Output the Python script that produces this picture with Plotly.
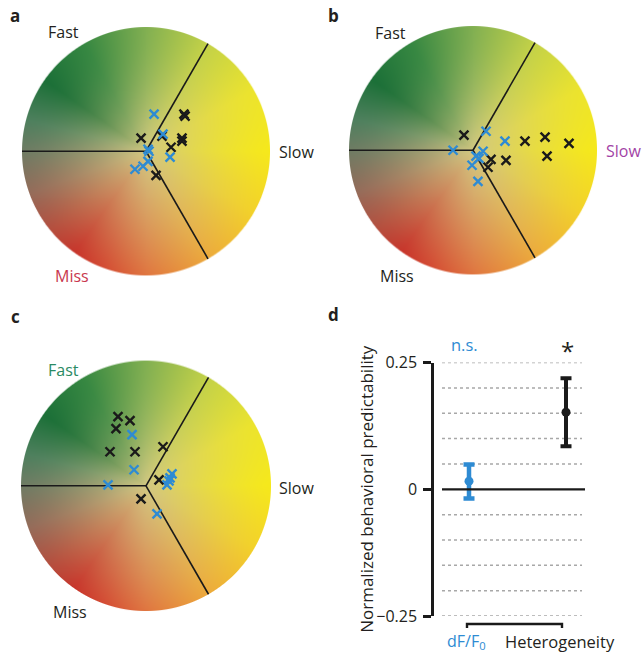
import numpy as np
import zlib, struct, base64
import plotly.graph_objects as go

W, H = 642, 659

# ---------------- data (normalized disc coordinates, radius = 1) ----------------
a_black_x = [0.315, 0.306, -0.040, 0.129, 0.290, 0.290, 0.202, 0.081]
a_black_y = [0.282, 0.298, 0.105, 0.121, 0.105, 0.081, 0.032, -0.194]
a_blue_x = [0.065, 0.137, 0.016, 0.024, 0.194, 0.016, -0.024, -0.089]
a_blue_y = [0.298, 0.137, 0.016, 0.000, -0.048, -0.081, -0.121, -0.145]

b_black_x = [-0.073, 0.419, 0.581, 0.774, 0.597, 0.266, 0.145, 0.121]
b_black_y = [0.121, 0.073, 0.105, 0.056, -0.048, -0.081, -0.073, -0.137]
b_blue_x = [0.105, 0.258, -0.161, 0.081, 0.048, 0.024, -0.008, 0.040]
b_blue_y = [0.153, 0.073, 0.000, -0.008, -0.065, -0.048, -0.121, -0.250]

c_black_x = [-0.224, -0.128, -0.240, -0.288, -0.088, 0.136, 0.104, -0.040]
c_black_y = [0.552, 0.520, 0.456, 0.272, 0.272, 0.312, 0.048, -0.104]
c_blue_x = [-0.112, -0.096, -0.304, 0.208, 0.184, 0.168, 0.192, 0.088]
c_blue_y = [0.408, 0.128, 0.008, 0.096, 0.040, 0.008, 0.064, -0.224]

d_categories = ["dF/F<sub>0</sub>", "Heterogeneity"]
d_means = [0.016, 0.152]
d_err_plus = [0.033, 0.067]
d_err_minus = [0.034, 0.067]
d_grid_levels = [-0.25, -0.2, -0.15, -0.1, -0.05, 0.05, 0.1, 0.15, 0.2, 0.25]
d_tickvals = [-0.25, 0, 0.25]
d_ticktext = ["\u22120.25", "0", "0.25"]

BLUE = "#2e8bd3"
BLACK = "#1a1a1a"
TXT = "#231f20"

# vertical placement helper (target pixel row -> layout pixel row)
SY, OY = 0.965, 13.0


def Y(py):
    return (py - OY) / SY


# ---------------- gradient disc image ----------------
def png_bytes(arr):
    h, w, _ = arr.shape
    raw = b"".join(b"\x00" + arr[i].tobytes() for i in range(h))

    def chunk(t, d):
        return struct.pack(">I", len(d)) + t + d + struct.pack(">I", zlib.crc32(t + d) & 0xFFFFFFFF)

    ihdr = struct.pack(">IIBBBBB", w, h, 8, 6, 0, 0, 0)
    return b"\x89PNG\r\n\x1a\n" + chunk(b"IHDR", ihdr) + chunk(b"IDAT", zlib.compress(raw, 9)) + chunk(b"IEND", b"")


def disc_uri(n=250):
    yy, xx = np.mgrid[0:n, 0:n]
    x = (xx + 0.5) / n * 2 - 1
    y = 1 - (yy + 0.5) / n * 2
    r = np.hypot(x, y)
    th = np.degrees(np.arctan2(y, x)) % 360
    angs = np.array([0, 30, 60, 90, 120, 145, 165, 180, 200, 220, 235, 250, 270, 300, 330, 360])
    cols = np.array([
        (246, 233, 28), (236, 228, 46), (196, 210, 72), (130, 176, 82), (55, 136, 66),
        (28, 112, 56), (78, 128, 94), (112, 124, 100), (150, 108, 90), (182, 78, 62),
        (200, 54, 44), (212, 76, 52), (224, 117, 64), (237, 170, 60), (243, 210, 42),
        (246, 233, 28)], float)
    ks = np.array([1.4, 1.4, 1.6, 1.8, 1.9, 1.9, 1.7, 1.5, 1.35, 1.2, 1.1, 1.0, 0.95, 1.0, 1.2, 1.4])
    edge = np.stack([np.interp(th, angs, cols[:, k]) for k in range(3)], -1)
    kk = np.interp(th, angs, ks)
    center = np.array([210, 200, 130], float)
    t = 1 - (1 - np.clip(r, 0, 1)) ** kk
    col = center * (1 - t)[..., None] + edge * t[..., None]
    alpha = np.clip((1 - r) * n / 2 + 0.5, 0, 1) * 255
    rgba = np.dstack([col, alpha]).clip(0, 255).astype(np.uint8)
    return "data:image/png;base64," + base64.b64encode(png_bytes(rgba)).decode()


DISC = disc_uri()

fig = go.Figure()

panels = [
    # suffix, cx, cy, r, pixel box x0, x1, y0, y1, data
    ("", 146, 153, 124, 0, 318, 13, 318, a_black_x, a_black_y, a_blue_x, a_blue_y),
    ("2", 473, 152, 124, 322, 642, 13, 318, b_black_x, b_black_y, b_blue_x, b_blue_y),
    ("3", 146, 487, 125, 0, 318, 322, 648, c_black_x, c_black_y, c_blue_x, c_blue_y),
]

images = []
layout_axes = {}
for (sfx, cx, cy, r, x0, x1, y0, y1, bx, by, ux, uy) in panels:
    xa = "x" + sfx
    ya = "y" + sfx
    layout_axes["xaxis" + sfx] = dict(domain=[x0 / W, x1 / W], range=[(x0 - cx) / r, (x1 - cx) / r],
                                      visible=False, anchor=ya, fixedrange=True)
    layout_axes["yaxis" + sfx] = dict(domain=[max(0, 1 - Y(y1) / H), min(1, 1 - Y(y0) / H)],
                                      range=[(cy - y1) / r, (cy - y0) / r],
                                      visible=False, anchor=xa, fixedrange=True)
    images.append(dict(source=DISC, xref=xa, yref=ya, x=-1, y=1, sizex=2, sizey=2,
                       sizing="stretch", xanchor="left", yanchor="top", layer="below"))
    for ang in (180, 60, -60):
        fig.add_trace(go.Scatter(x=[0, np.cos(np.radians(ang))], y=[0, np.sin(np.radians(ang))],
                                 mode="lines", line=dict(color=BLACK, width=1.6),
                                 xaxis=xa, yaxis=ya, showlegend=False, hoverinfo="skip"))
    fig.add_trace(go.Scatter(x=bx, y=by, mode="markers", xaxis=xa, yaxis=ya, showlegend=False,
                             marker=dict(symbol="x-thin", size=9, line=dict(color=BLACK, width=2.4))))
    fig.add_trace(go.Scatter(x=ux, y=uy, mode="markers", xaxis=xa, yaxis=ya, showlegend=False,
                             marker=dict(symbol="x-thin", size=9, line=dict(color=BLUE, width=2.4))))

# ---------------- panel d ----------------
dx0, dx1 = 432, 600
dy0, dy1 = 364, 617
px_per = 97.0
c0 = 469
layout_axes["xaxis4"] = dict(domain=[dx0 / W, dx1 / W], range=[(dx0 - c0) / px_per, (dx1 - c0) / px_per],
                             visible=False, anchor="y4", fixedrange=True)
layout_axes["yaxis4"] = dict(domain=[1 - Y(dy1) / H, 1 - Y(dy0) / H], range=[-0.25, 0.25], anchor="free",
                             position=dx0 / W, showline=True, linewidth=2.5, linecolor=BLACK,
                             ticks="outside", ticklen=8, tickwidth=2.5, tickcolor=BLACK,
                             ticklabelstandoff=3,
                             tickvals=d_tickvals, ticktext=d_ticktext, showgrid=False, zeroline=False,
                             tickfont=dict(size=16, color=TXT), fixedrange=True)

gx0 = (442 - c0) / px_per
gx1 = (582 - c0) / px_per
shapes = []
for lv in d_grid_levels:
    shapes.append(dict(type="line", xref="x4", yref="y4", x0=gx0, x1=gx1, y0=lv, y1=lv,
                       line=dict(color="#a8a8a8", width=1.5, dash="3px,3px"), layer="below"))
shapes.append(dict(type="line", xref="x4", yref="y4", x0=gx0, x1=(585 - c0) / px_per, y0=0, y1=0,
                   line=dict(color=BLACK, width=2.2)))
bx0 = (467 - c0) / px_per
bx1 = (562 - c0) / px_per
ytop = 1 - Y(625) / H
ybot = 1 - Y(629) / H
shapes.append(dict(type="path", xref="x4", yref="paper",
                   path=f"M {bx0},{ybot} L {bx0},{ytop} L {bx1},{ytop} L {bx1},{ybot}",
                   line=dict(color=BLACK, width=2.4)))

for i, colr in enumerate([BLUE, BLACK]):
    fig.add_trace(go.Scatter(x=[i], y=[d_means[i]], mode="markers", xaxis="x4", yaxis="y4", showlegend=False,
                             marker=dict(color=colr, size=9),
                             error_y=dict(type="data", array=[d_err_plus[i]], arrayminus=[d_err_minus[i]],
                                          color=colr, thickness=4.5 if i == 0 else 4, width=5.5)))


def ann(text, px, py, size=16, color=TXT, bold=False, xanchor="center", angle=0):
    return dict(text=f"<b>{text}</b>" if bold else text, x=px / W, y=1 - Y(py) / H, xref="paper", yref="paper",
                showarrow=False, xanchor=xanchor, yanchor="middle", textangle=angle,
                font=dict(size=size, color=color))


annotations = [
    ann("a", 15, 17, 17, bold=True), ann("b", 333, 17, 17, bold=True),
    ann("c", 15, 318, 17, bold=True), ann("d", 333, 316, 17, bold=True),
    ann("Fast", 63, 34), ann("Slow", 296, 154), ann("Miss", 72, 278, color="#c8384e"),
    ann("Fast", 390, 35), ann("Slow", 623, 153, color="#a243a6"), ann("Miss", 397, 278),
    ann("Fast", 63, 371, color="#2a8a63"), ann("Slow", 296, 489), ann("Miss", 70, 613),
    ann("n.s.", 464, 346, 16.5, color=BLUE), ann("*", 567, 352, 24),
    ann(d_categories[0], 466, 642, 16, color=BLUE), ann(d_categories[1], 560, 642, 16.5),
    ann("Normalized behavioral predictability", 367, 490, 17, angle=-90),
]

fig.update_layout(width=W, height=H, margin=dict(l=0, r=0, t=0, b=0), autosize=False,
                  paper_bgcolor="white", plot_bgcolor="rgba(0,0,0,0)",
                  font=dict(family="Open Sans, Lato, sans-serif", color=TXT),
                  images=images, shapes=shapes, annotations=annotations, showlegend=False,
                  **layout_axes)

fig.write_html("out.html",
               config={"displayModeBar": False, "responsive": False},
               post_script=(
                   "document.documentElement.style.margin='0px';"
                   "document.body.style.margin='0px';document.body.style.padding='0px';"
                   "document.body.style.overflow='hidden';"
                   "var gd=document.getElementById('{plot_id}');"
                   "gd.style.position='absolute';gd.style.top='0px';gd.style.left='0px';"
               ))
